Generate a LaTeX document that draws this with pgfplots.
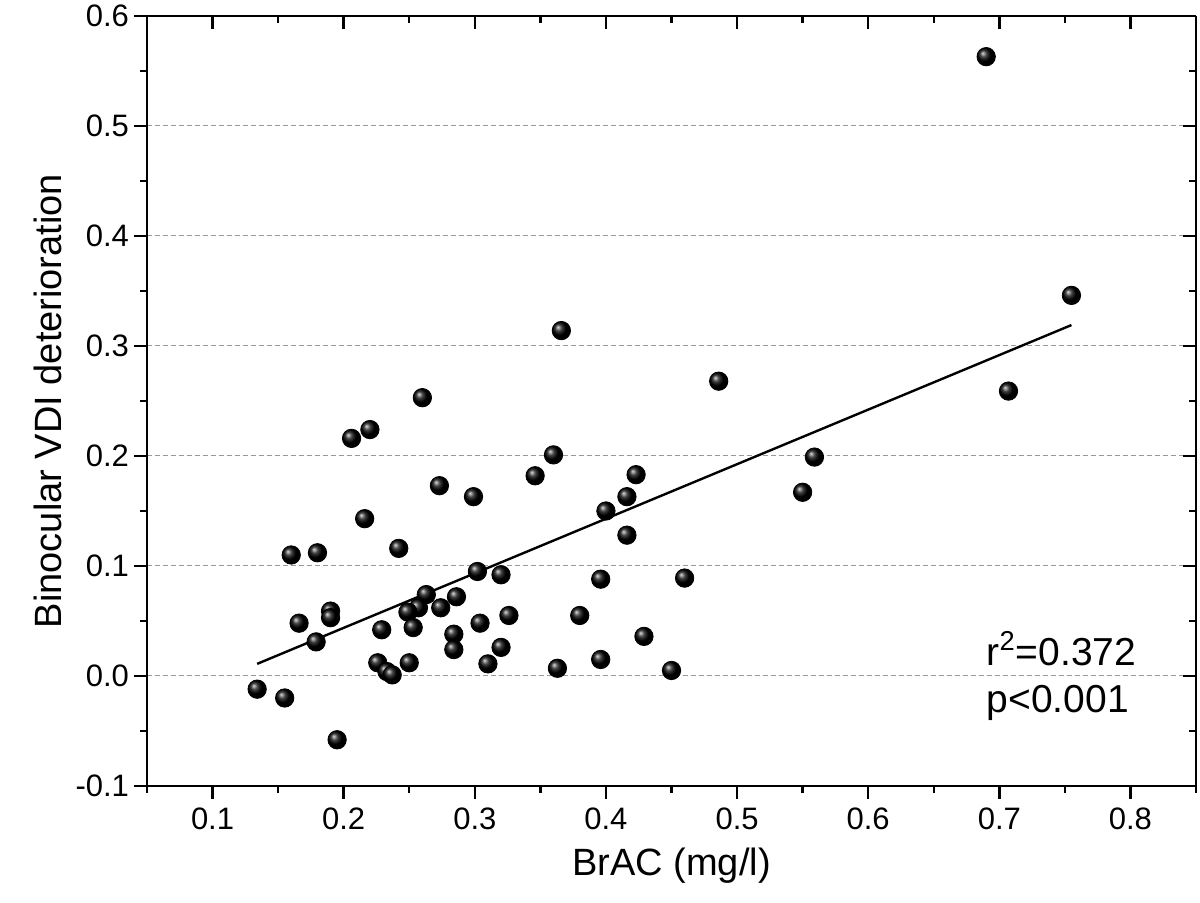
\documentclass[border=0pt]{standalone}
\usepackage{fontspec}
\setmainfont{Liberation Sans}
\usepackage{pgfplots}
\pgfplotsset{compat=1.18}
\begin{document}
\begin{tikzpicture}
\pgfplotsset{
  common/.style={
    scale only axis, width=524.5pt, height=385pt,
    xmin=0.05, xmax=0.85, ymin=-0.1, ymax=0.6,
    axis line style={line width=1.2pt, black},
    major tick length=6.5pt, minor tick length=3.5pt,
    tick style={line width=1.2pt, black},
    xtick={0.1,0.2,0.3,0.4,0.5,0.6,0.7,0.8},
    minor xtick={0.05,0.15,0.25,0.35,0.45,0.55,0.65,0.75,0.85},
    ytick={-0.1,0,0.1,0.2,0.3,0.4,0.5,0.6},
    minor ytick={-0.05,0.05,0.15,0.25,0.35,0.45,0.55},
  }
}
\begin{axis}[common,
  axis x line*=bottom, axis y line*=left,
  tick align=outside,
  ymajorgrids,
  grid style={gray!80, line width=0.5pt, dash pattern=on 2.5pt off 1.5pt},
  /pgf/number format/assume math mode=true,
  tick label style={font=\fontsize{15.5}{18}\selectfont},
  xticklabel style={yshift=-1pt, /pgf/number format/.cd, fixed, fixed zerofill, precision=1},
  yticklabel style={xshift=1pt, /pgf/number format/.cd, fixed, fixed zerofill, precision=1},
  xlabel={BrAC (mg/l)},
  ylabel={Binocular VDI deterioration},
  label style={font=\fontsize{19}{22}\selectfont},
  xlabel style={yshift=-2pt},
]
\coordinate (sw) at (rel axis cs:0,0);
\coordinate (ne) at (rel axis cs:1,1);
\addplot[black, line width=1.2pt, no marks] coordinates {(0.134,0.011) (0.755,0.319)};
\addplot[only marks, mark=ball, mark size=4.6pt, mark options={ball color=black}] coordinates {
(0.134,-0.012) (0.155,-0.020) (0.195,-0.058) (0.206,0.216) (0.220,0.224)
(0.273,0.173) (0.299,0.163) (0.216,0.143) (0.160,0.110) (0.180,0.112)
(0.242,0.116) (0.302,0.095) (0.263,0.074) (0.286,0.072) (0.257,0.062)
(0.249,0.058) (0.274,0.062) (0.190,0.059) (0.190,0.053) (0.166,0.048)
(0.229,0.042) (0.253,0.044) (0.304,0.048) (0.179,0.031) (0.284,0.038)
(0.284,0.024) (0.226,0.012) (0.233,0.004) (0.237,0.001) (0.250,0.012)
(0.310,0.011) (0.366,0.314) (0.486,0.268) (0.360,0.201) (0.346,0.182)
(0.423,0.183) (0.416,0.163) (0.400,0.150) (0.416,0.128) (0.559,0.199)
(0.550,0.167) (0.320,0.092) (0.396,0.088) (0.460,0.089) (0.326,0.055)
(0.380,0.055) (0.320,0.026) (0.429,0.036) (0.363,0.007) (0.396,0.015)
(0.450,0.005) (0.690,0.563) (0.755,0.346) (0.707,0.259) (0.260,0.253)
};
\node[anchor=west, align=left, font=\fontsize{19.5}{23.5}\selectfont] at (axis cs:0.685,0) {r\textsuperscript{2}=0.372\\p<0.001};
\end{axis}
\begin{axis}[common,
  axis x line*=top, axis y line*=right,
  tick align=inside,
  xticklabels={}, yticklabels={},
]
\end{axis}
\pgfresetboundingbox
\path[use as bounding box] (sw) ++(-73.5pt,-58.5pt) rectangle ([shift={(2pt,8pt)}]ne);
\end{tikzpicture}
\end{document}
